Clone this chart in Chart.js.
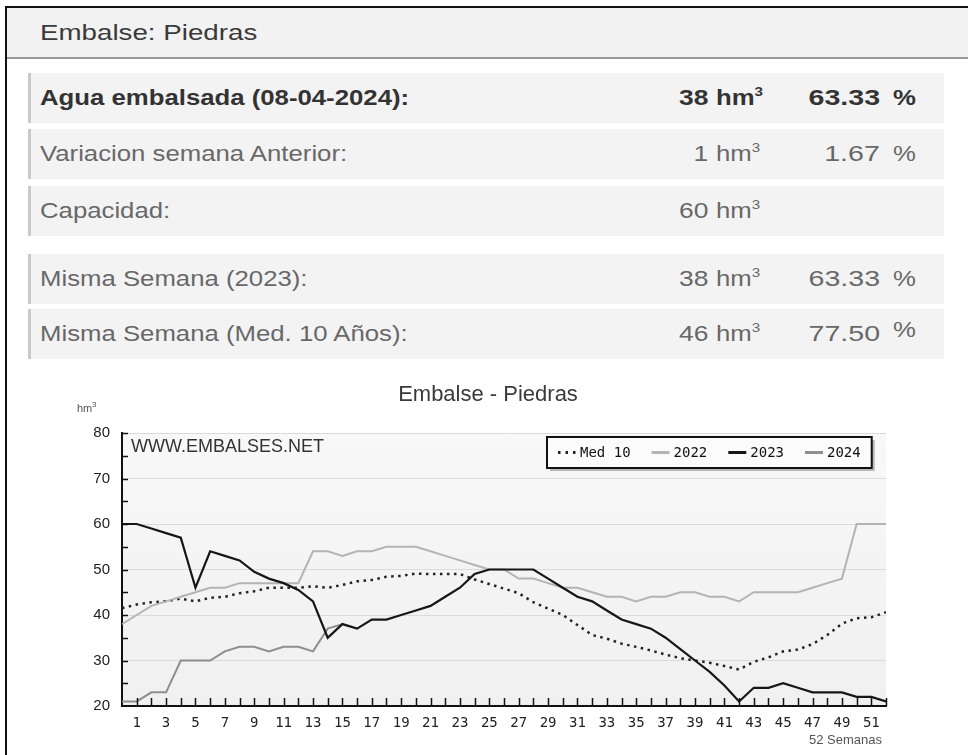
<!DOCTYPE html>
<html lang="es">
<head>
<meta charset="utf-8">
<title>Embalse: Piedras</title>
<script src="https://cdn.jsdelivr.net/npm/chart.js@4.4.1/dist/chart.umd.min.js"></script>
<style>
    html, body { margin: 0; padding: 0; background: #fff; }
    body {
        width: 968px; height: 755px; overflow: hidden; position: relative;
        font-family: "Liberation Sans", Arial, sans-serif;
    }
    .marco {
        position: absolute; left: 5px; top: 6px; width: 990px; height: 780px;
        border-left: 2px solid #111; border-top: 2px solid #111;
    }
    .cabecera {
        position: absolute; left: 7px; top: 8px; width: 961px; height: 49px;
        background: #f2f2f2; border-bottom: 2px solid #9a9a9a;
    }
    .cabecera span {
        position: absolute; left: 33px; top: 0; line-height: 49px;
        font-size: 22px; color: #3a3a3a;
        transform: scaleX(1.26); transform-origin: left center;
    }
    .fila {
        position: absolute; left: 28px; width: 913px; height: 50px;
        background: #f3f3f3; border-left: 3px solid #c9c9c9;
        color: #686868; font-size: 22px;
    }
    .fila.fuerte { color: #333; font-weight: bold; }
    .fila span { position: absolute; top: 0; line-height: 50px; white-space: nowrap; }
    .lbl { left: 9px; transform: scaleX(1.17); transform-origin: left center; }
    .val { right: 236px; transform: scaleX(1.2); transform-origin: right center; }
    .uni { left: 685px; transform: scaleX(1.17); transform-origin: left center; }
    .pct { right: 64px; transform: scaleX(1.3); transform-origin: right center; }
    .sig { left: 862px; transform: scaleX(1.17); transform-origin: left center; }
    .sig.alto { top: -4px; }
    .uni sup { font-size: 13px; vertical-align: baseline; position: relative; top: -9px; }
    #grafico { position: absolute; left: 8px; top: 370px; width: 960px; height: 385px; }
</style>
</head>
<body>
<div class="marco"></div>
<div class="cabecera"><span>Embalse: Piedras</span></div>

<div class="fila fuerte" style="top:73px">
    <span class="lbl">Agua embalsada (08-04-2024):</span>
    <span class="val">38</span><span class="uni">hm<sup>3</sup></span>
    <span class="pct">63.33</span><span class="sig">%</span>
</div>
<div class="fila" style="top:129px">
    <span class="lbl">Variacion semana Anterior:</span>
    <span class="val">1</span><span class="uni">hm<sup>3</sup></span>
    <span class="pct">1.67</span><span class="sig">%</span>
</div>
<div class="fila" style="top:186px">
    <span class="lbl">Capacidad:</span>
    <span class="val">60</span><span class="uni">hm<sup>3</sup></span>
</div>
<div class="fila" style="top:254px">
    <span class="lbl">Misma Semana (2023):</span>
    <span class="val">38</span><span class="uni">hm<sup>3</sup></span>
    <span class="pct">63.33</span><span class="sig">%</span>
</div>
<div class="fila" style="top:309px">
    <span class="lbl">Misma Semana (Med. 10 Años):</span>
    <span class="val">46</span><span class="uni">hm<sup>3</sup></span>
    <span class="pct">77.50</span><span class="sig alto">%</span>
</div>

<div id="grafico"><canvas id="embalseChart"></canvas></div>

<script>
// Semanas del año (eje X) y etiquetas visibles
const semanas = [0, 1, 2, 3, 4, 5, 6, 7, 8, 9, 10, 11, 12, 13, 14, 15, 16, 17, 18, 19,
    20, 21, 22, 23, 24, 25, 26, 27, 28, 29, 30, 31, 32, 33, 34, 35, 36, 37, 38, 39,
    40, 41, 42, 43, 44, 45, 46, 47, 48, 49, 50, 51, 52];
const etiquetasSemana = [1, 3, 5, 7, 9, 11, 13, 15, 17, 19, 21, 23, 25,
    27, 29, 31, 33, 35, 37, 39, 41, 43, 45, 47, 49, 51];
const ticksHm3 = [20, 30, 40, 50, 60, 70, 80];

// Volumen embalsado (hm3) por semana
const med10 = [41.5, 42.3, 42.8, 43.0, 43.6, 43.0, 43.8, 44.0, 44.8, 45.2,
    46.0, 46.0, 46.0, 46.3, 46.0, 46.6, 47.4, 47.7, 48.4, 48.6,
    49.1, 49.0, 49.0, 49.0, 47.8, 46.8, 45.8, 44.8, 42.8, 41.4,
    40.0, 37.8, 35.6, 34.8, 33.7, 33.0, 32.2, 31.3, 30.5, 30.0,
    29.5, 28.8, 28.0, 29.7, 30.7, 32.0, 32.4, 33.6, 35.6, 38.1,
    39.3, 39.5, 40.6];
const serie2022 = [38, 40, 42, 43, 44, 45, 46, 46, 47, 47,
    47, 47, 47, 54, 54, 53, 54, 54, 55, 55,
    55, 54, 53, 52, 51, 50, 50, 48, 48, 47,
    46, 46, 45, 44, 44, 43, 44, 44, 45, 45,
    44, 44, 43, 45, 45, 45, 45, 46, 47, 48,
    60, 60, 60];
const serie2023 = [60, 60, 59, 58, 57, 46, 54, 53, 52, 49.5,
    48, 47, 45.5, 43, 35, 38, 37, 39, 39, 40,
    41, 42, 44, 46, 49, 50, 50, 50, 50, 48,
    46, 44, 43, 41, 39, 38, 37, 35, 32.5, 30,
    27.5, 24.5, 21, 24, 24, 25, 24, 23, 23, 23,
    22, 22, 21];
const serie2024 = [21, 21, 23, 23, 30, 30, 30, 32, 33, 33,
    32, 33, 33, 32, 37, 38];

const puntos = serie => serie.map((v, i) => ({ x: semanas[i], y: v }));

/**
 * Fondo del área, marcas de los ejes, textos y leyenda en recuadro
 */
const decoracion = {
    id: 'decoracion',
    beforeDraw(chart) {
        const { ctx, chartArea: a } = chart;
        ctx.save();
        const g = ctx.createLinearGradient(0, a.top, 0, a.bottom);
        g.addColorStop(0, '#f8f8f8');
        g.addColorStop(1, '#f0f0f0');
        ctx.fillStyle = g;
        ctx.fillRect(a.left, a.top, a.right - a.left, a.bottom - a.top);
        ctx.restore();
    },
    afterDraw(chart) {
        const { ctx, chartArea: a, scales } = chart;
        const x = scales.x, y = scales.y;
        ctx.save();

        // marcas semanales hacia arriba
        ctx.strokeStyle = '#111';
        ctx.lineWidth = 1.5;
        semanas.forEach(s => {
            if (s === 0) return;
            const px = Math.round(x.getPixelForValue(s)) + 0.5;
            ctx.beginPath();
            ctx.moveTo(px, a.bottom);
            ctx.lineTo(px, a.bottom - 8);
            ctx.stroke();
        });

        // marcas del eje Y hacia dentro
        for (let v = ticksHm3[0] + 5; v <= ticksHm3[ticksHm3.length - 1]; v += 5) {
            const py = Math.round(y.getPixelForValue(v)) + 0.5;
            ctx.beginPath();
            ctx.moveTo(a.left, py);
            ctx.lineTo(a.left + 6, py);
            ctx.stroke();
        }

        // titulo
        ctx.fillStyle = '#3a3a3a';
        ctx.textAlign = 'center';
        ctx.textBaseline = 'middle';
        ctx.font = '22px "Liberation Sans", Arial, sans-serif';
        ctx.fillText('Embalse - Piedras', 480, 25);

        // textos sueltos
        ctx.fillStyle = '#333';
        ctx.textBaseline = 'alphabetic';
        ctx.textAlign = 'left';
        ctx.font = '18px "Liberation Sans", Arial, sans-serif';
        ctx.fillText('WWW.EMBALSES.NET', a.left + 9, a.top + 19);

        ctx.fillStyle = '#555';
        ctx.font = '11px "Liberation Sans", Arial, sans-serif';
        ctx.fillText('hm', 69, 42);
        ctx.font = '8px "Liberation Sans", Arial, sans-serif';
        ctx.fillText('3', 69 + 15, 37);

        ctx.font = '13px "Liberation Sans", Arial, sans-serif';
        ctx.textAlign = 'right';
        ctx.fillText('52 Semanas', a.right - 4, a.bottom + 38);

        // leyenda
        const items = chart.data.datasets;
        ctx.font = '14px "DejaVu Sans Mono", monospace';
        ctx.textAlign = 'left';
        const muestra = 18, hueco = 4, sep = 21, margen = 11, alto = 31;
        let ancho = margen * 2;
        items.forEach((d, i) => {
            ancho += muestra + hueco + ctx.measureText(d.label).width;
            if (i < items.length - 1) ancho += sep;
        });
        const bx = Math.round(a.right - 14 - ancho), by = a.top + 4;
        ctx.fillStyle = '#b8b8b8';
        ctx.fillRect(bx + 3, by + 3, ancho, alto);
        ctx.fillStyle = '#fbfbfb';
        ctx.fillRect(bx, by, ancho, alto);
        ctx.strokeStyle = '#111';
        ctx.lineWidth = 2;
        ctx.strokeRect(bx, by, ancho, alto);

        let cx = bx + margen;
        const cy = by + alto / 2;
        items.forEach(d => {
            ctx.beginPath();
            ctx.setLineDash(d.borderDash ? [2.5, 5] : []);
            ctx.strokeStyle = d.borderColor;
            ctx.lineWidth = 3;
            ctx.moveTo(cx, cy);
            ctx.lineTo(cx + muestra, cy);
            ctx.stroke();
            ctx.setLineDash([]);
            cx += muestra + hueco;
            ctx.fillStyle = '#111';
            ctx.textBaseline = 'middle';
            ctx.fillText(d.label, cx, cy + 1);
            cx += ctx.measureText(d.label).width + sep;
        });

        ctx.restore();
    }
};

const ctx = document.getElementById('embalseChart');

new Chart(ctx, {
    type: 'line',
    data: {
        datasets: [
            {
                label: 'Med 10',
                data: puntos(med10),
                borderColor: '#222',
                borderWidth: 2.5,
                borderDash: [2.5, 4.5],
                order: 3
            },
            {
                label: '2022',
                data: puntos(serie2022),
                borderColor: '#b4b4b4',
                borderWidth: 2,
                order: 2
            },
            {
                label: '2023',
                data: puntos(serie2023),
                borderColor: '#161616',
                borderWidth: 2.2,
                order: 0
            },
            {
                label: '2024',
                data: puntos(serie2024),
                borderColor: '#8e8e8e',
                borderWidth: 2,
                order: 1
            }
        ]
    },
    options: {
        responsive: true,
        maintainAspectRatio: false,
        animation: false,
        layout: {
            padding: { left: 0, right: 82, top: 63, bottom: 0 }
        },
        elements: {
            point: { radius: 0, hoverRadius: 0 },
            line: { tension: 0, fill: false }
        },
        plugins: {
            legend: { display: false },
            tooltip: { enabled: false },
            title: { display: false }
        },
        scales: {
            x: {
                type: 'linear',
                min: semanas[0],
                max: semanas[semanas.length - 1],
                afterBuildTicks: s => { s.ticks = semanas.map(v => ({ value: v })); },
                afterFit: s => { s.height = 49; },
                ticks: {
                    autoSkip: false,
                    maxRotation: 0,
                    padding: 9,
                    color: '#222',
                    font: { family: '"DejaVu Sans Mono", monospace', size: 14 },
                    callback: v => etiquetasSemana.includes(v) ? String(v) : ''
                },
                grid: {
                    color: 'transparent',
                    drawTicks: false
                },
                border: { display: true, color: '#111', width: 2 }
            },
            y: {
                min: ticksHm3[0],
                max: ticksHm3[ticksHm3.length - 1],
                afterBuildTicks: s => { s.ticks = ticksHm3.map(v => ({ value: v })); },
                afterFit: s => { s.width = 114; },
                ticks: {
                    padding: 12,
                    color: '#222',
                    font: { family: '"Liberation Sans", Arial, sans-serif', size: 15 }
                },
                grid: {
                    color: c => (c.tick && c.tick.value > ticksHm3[0]) ? '#dadada' : 'transparent',
                    lineWidth: 1,
                    drawTicks: false
                },
                border: { display: true, color: '#111', width: 2 }
            }
        }
    },
    plugins: [decoracion]
});
</script>
</body>
</html>
